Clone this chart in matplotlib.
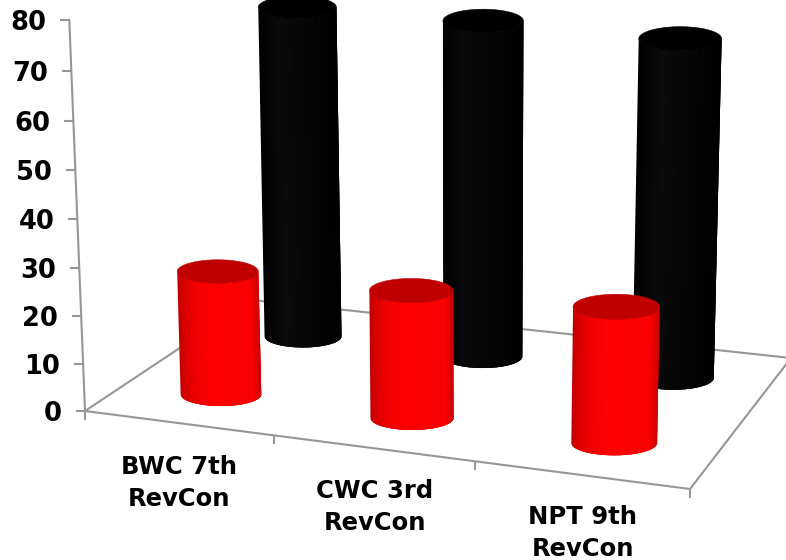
import numpy as np
import matplotlib
matplotlib.use("Agg")
import matplotlib.pyplot as plt
from matplotlib.patches import Polygon

categories = ["BWC 7th\nRevCon", "CWC 3rd\nRevCon", "NPT 9th\nRevCon"]
front_series = [26.2, 26.4, 27.4]
back_series = [73.1, 72.6, 71.4]
y_ticks = [0, 10, 20, 30, 40, 50, 60, 70, 80]

W, H = 786, 560
fig = plt.figure(figsize=(W / 100, H / 100), dpi=100)
ax = fig.add_axes([0, 0, 1, 1])
ax.set_xlim(0, W)
ax.set_ylim(H, 0)
ax.axis("off")

# chart camera: floor corners on the canvas, vertical vanishing point
src = [(0, 0), (3, 0), (3, 2), (0, 2)]
dst = [(85, 411), (690, 489), (791, 358), (252, 300)]
A, b = [], []
for (u, v), (px, py) in zip(src, dst):
    A.append([u, v, 1, 0, 0, 0, -u * px, -v * px]); b.append(px)
    A.append([0, 0, 0, u, v, 1, -u * py, -v * py]); b.append(py)
s = np.linalg.solve(np.array(A, float), np.array(b, float))
Hm = np.array([[s[0], s[1], s[2]], [s[3], s[4], s[5]], [s[6], s[7], 1.0]])
vp = np.array([470.0, 10000.0, 1.0])
t80 = (20 - 411) / (10000 - 20)
kz = t80 * Hm[2, 2] / 80


def proj(x, y, z):
    X = Hm[0, 0] * x + Hm[0, 1] * y + Hm[0, 2] + kz * z * vp[0]
    Y = Hm[1, 0] * x + Hm[1, 1] * y + Hm[1, 2] + kz * z * vp[1]
    w = Hm[2, 0] * x + Hm[2, 1] * y + Hm[2, 2] + kz * z * vp[2]
    return X / w, Y / w


GRAY = "#969696"
LW = 1.5


def seg(a, b):
    pa = proj(*a); pb = proj(*b)
    ax.plot([pa[0], pb[0]], [pa[1], pb[1]], color=GRAY, lw=LW, solid_capstyle="projecting", zorder=1)


seg((0, 0, 0), (0, 0, 80))
seg((0, 0, 0), (3, 0, 0))
seg((3, 0, 0), (3, 2, 0))
seg((3, 2, 0), (0, 2, 0))
seg((0, 0, 0), (0, 2, 0))

for t in y_ticks:
    px, py = proj(0.0, 0.0, float(t))
    ax.plot([px - 9, px], [py, py], color=GRAY, lw=LW, solid_capstyle="butt", zorder=1)
    ax.text(px - 23, py + 3, str(t), ha="right", va="center", fontsize=18.5,
            fontweight="bold", color="black", family="DejaVu Sans")

for i in range(4):
    px, py = proj(float(i), 0.0, 0.0)
    ax.plot([px, px], [py, py + 9], color=GRAY, lw=LW, solid_capstyle="butt", zorder=1)

label_xy = [(179, 483), (375, 507), (583, 533)]
for lab, (lx, ly) in zip(categories, label_xy):
    ax.text(lx, ly, lab, ha="center", va="center", fontsize=17.5, fontweight="bold",
            color="black", family="DejaVu Sans", linespacing=1.38)

RX = 0.205
FLAT = 0.29
N = 70


def ring(cx, cy, z, k):
    """screen-aligned ellipse at a floor position and height"""
    x0, y0 = proj(cx, cy, z)
    xa, _ = proj(cx - RX, cy, z)
    xb, _ = proj(cx + RX, cy, z)
    a = k * 43 * (((xb - xa) / 2) / 43) ** 0.5
    return x0, y0, a, a * FLAT


def arc(r, th):
    return np.c_[r[0] + r[2] * np.cos(th), r[1] + r[3] * np.sin(th)]


def cylinder(cx, cy, value, body_fn, cap, z, k):
    base = ring(cx, cy, 0.0, k)
    top = ring(cx, cy, float(value), k)
    # strips painted left to right, each overlapping the next two, so no seams appear
    edges = np.pi - np.arccos(1 - 2 * np.arange(N + 1) / N)
    for i in range(N):
        th = np.linspace(edges[i], edges[min(i + 3, N)], 12)
        pts = np.vstack([arc(base, th), arc(top, th[::-1])])
        ax.add_patch(Polygon(pts, closed=True, facecolor=body_fn((i + 0.5) / N), edgecolor="none", zorder=z))
    t = np.linspace(0, 2 * np.pi, 121)
    ax.add_patch(Polygon(arc(top, t), closed=True, facecolor=cap, edgecolor=cap, lw=0.4, zorder=z + 0.5))


def red_body(f):
    g = np.interp(f, [0, 0.06, 0.2, 0.4, 0.9, 1.0], [0.74, 0.84, 0.94, 1.0, 0.98, 0.80])
    return (g, 0, 0)


def black_body(f):
    g = np.interp(f, [0, 0.3, 0.6, 1.0], [0.0, 0.04, 0.02, 0.0])
    return (g, g, g)


for i, v in enumerate(back_series):
    cylinder(i + 0.525, 1.48, v, black_body, "#000000", 3, 0.98)
for i, v in enumerate(front_series):
    cylinder(i + (0.515 if i == 0 else 0.52), 0.46, v, red_body, "#C00000", 5, 1.0)

fig.savefig("out.png", dpi=100)
